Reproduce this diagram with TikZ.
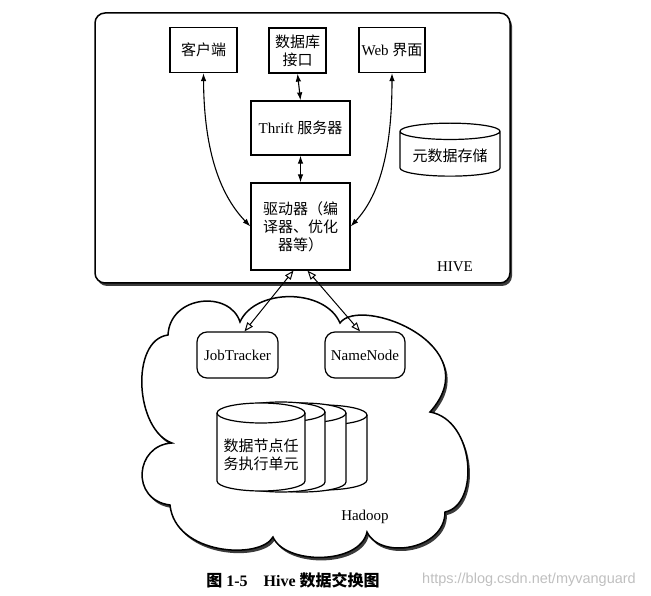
\documentclass[tikz,border=0pt]{standalone}
\usepackage{fontspec}
\setmainfont{Liberation Serif}
\setsansfont{Liberation Sans}
\newfontfamily\cjk{Noto Sans CJK SC}
\usetikzlibrary{shapes.geometric, arrows.meta, positioning, shadows, calc}

% data node drum: left, right, top, bottom, ry
\newcommand\drumshape[5]{%
  \draw[drumline] (#1,#3-#5) -- (#1,#4+#5)
    arc[start angle=180, end angle=360, x radius={(#2-#1)/2*1pt}, y radius=#5pt]
    -- (#2,#3-#5)
    arc[start angle=0, end angle=180, x radius={(#2-#1)/2*1pt}, y radius=#5pt] -- cycle;
  \draw[drumline, fill=none] (#1,#3-#5)
    arc[start angle=180, end angle=360, x radius={(#2-#1)/2*1pt}, y radius=#5pt];}

\begin{document}
\begin{tikzpicture}[
    x=1pt, y=1pt,
    every node/.style={font=\fontsize{15}{18}\selectfont},
    box/.style={rectangle, draw=black, line width=1.2pt, fill=white, align=center, inner sep=2pt},
    drum/.style={cylinder, shape border rotate=90, draw=black, line width=1.2pt, fill=white, align=center},
    drumline/.style={draw=black, line width=1.2pt, fill=white},
    hnode/.style={rectangle, rounded corners=10pt, draw=black, line width=1.2pt, fill=white, minimum width=80pt, minimum height=46pt},
    dblarrow/.style={{Latex[length=8pt,width=5.5pt]}-{Latex[length=8pt,width=5.5pt]}, line width=1.1pt},
    openarrow/.style={{Triangle[open,length=9pt,width=7pt]}-{Triangle[open,length=9pt,width=7pt]}, line width=1pt},
    frame/.style={line width=1.5pt, fill=white, drop shadow={shadow xshift=2pt, shadow yshift=-3pt, opacity=0.9, fill=black!85}}
]
\useasboundingbox (0,0) rectangle (651,595);

% HIVE
\draw[frame, rounded corners=10pt] (95,312) rectangle (510,582);
\node (kh) [box, minimum width=67pt, minimum height=45pt] at (203.5,545) {{\cjk 客户端}};
\node (db) [box, minimum width=57pt, minimum height=45pt] at (297.5,544.5) {{\cjk 数据库}\\{\cjk 接口}};
\node (web) [box, minimum width=66pt, minimum height=45pt] at (392,545) {Web {\cjk 界面}};
\node (thrift) [box, minimum width=99pt, minimum height=54pt] at (300.5,467) {Thrift {\cjk 服务器}};
\node (qd) [box, minimum width=99pt, minimum height=87pt] at (300.5,368.5) {{\cjk 驱动器（编}\\{\cjk 译器、优化}\\{\cjk 器等）}};
\node (meta) [drum, minimum width=100pt, minimum height=53pt, aspect=0.2] at (450,439.5) {{\cjk 元数据存储}};
\node (hive) at (455,328) {HIVE};

\draw[dblarrow] (db.south) -- (thrift.north);
\draw[dblarrow] (thrift.south) -- (qd.north);
\draw[dblarrow] (kh.south) .. controls (204,440) and (222,398) .. (qd.west);
\draw[dblarrow] (web.south) .. controls (392,440) and (378,398) .. (qd.east);

% Hadoop
\draw[frame] (168,260) .. controls (170,300) and (230,305) .. (240,273)
  .. controls (255,307) and (325,307) .. (340,272)
  .. controls (360,300) and (490,250) .. (430,183)
  .. controls (475,175) and (480,90) .. (445,83)
  .. controls (445,45) and (380,35) .. (367,63)
  .. controls (360,30) and (285,30) .. (273,58)
  .. controls (260,35) and (175,40) .. (170,90)
  .. controls (130,95) and (135,150) .. (172,152)
  .. controls (135,165) and (130,255) .. (168,260) -- cycle;
\node (jt) [hnode, minimum width=81pt] at (237.5,240) {JobTracker};
\node (nn) [hnode] at (365,240) {NameNode};
\draw[openarrow] ([xshift=-7pt]qd.south) -- ([xshift=7pt]jt.north);
\draw[openarrow] ([xshift=7pt]qd.south) -- ([xshift=-5pt]nn.north);

\drumshape{279}{367}{190}{105}{10}
\drumshape{258}{346}{192}{103}{10}
\drumshape{237}{325}{193}{103}{10}
\drumshape{217}{305}{192}{104}{10}
\node (dn) [align=center] at (261,140) {{\cjk 数据节点任}\\{\cjk 务执行单元}};
\node (hadoop) at (365,78) {Hadoop};

% caption
\node (cap) at (293,15) [font=\fontsize{16}{19}\selectfont] {\bfseries{\cjk 图} 1-5\quad Hive {\cjk 数据交换图}};
\node (wm) at (529,15) [text=black!25, font=\sffamily\fontsize{14.5}{17}\selectfont] {https://blog.csdn.net/myvanguard};
\end{tikzpicture}
\end{document}
